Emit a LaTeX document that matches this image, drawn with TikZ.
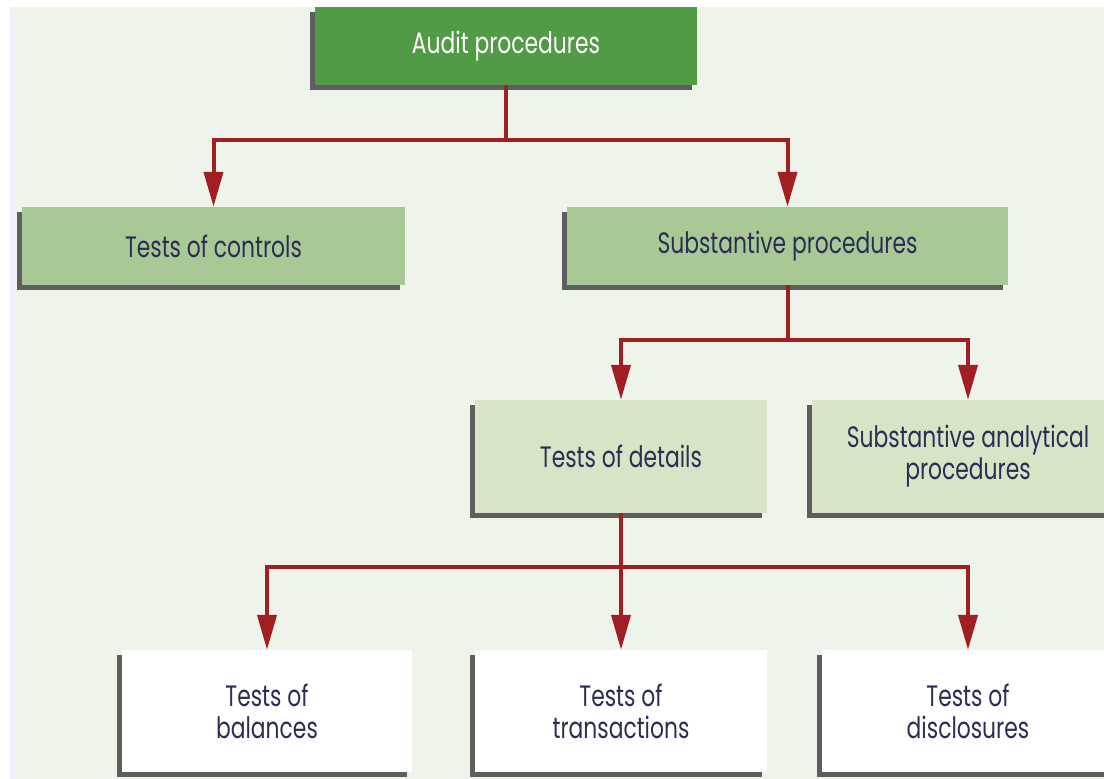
\documentclass[tikz,border=0pt]{standalone}
\usepackage{fontspec}
\setmainfont{Poppins}[FakeStretch=0.74]
\usetikzlibrary{arrows.meta,shadows}
\definecolor{bg}{HTML}{EEF4EA}
\definecolor{strip}{HTML}{EDF1F6}
\definecolor{dkgreen}{HTML}{529B46}
\definecolor{midgreen}{HTML}{A8C995}
\definecolor{ltgreen}{HTML}{D5E5C6}
\definecolor{shadowgray}{HTML}{5E5E5E}
\definecolor{linkred}{HTML}{A01E24}
\definecolor{textnavy}{HTML}{2B2D55}
\begin{document}
\begin{tikzpicture}[x=1pt,y=-1pt,
  box/.style={inner sep=0pt, align=center, text=textnavy,
    font=\fontsize{29.5}{32}\selectfont,
    general shadow={fill=shadowgray, shadow xshift=-5pt, shadow yshift=-5pt}},
  toplevel/.style={box, fill=dkgreen, text=white, minimum width=382pt, minimum height=78pt},
  midlevel/.style={box, fill=midgreen, minimum height=78pt},
  lowlevel/.style={box, fill=ltgreen, minimum height=113pt},
  leaflevel/.style={box, fill=white, minimum height=122pt},
  link/.style={draw=linkred, line width=4pt, -{Triangle[length=35pt,width=19pt]}}]
\useasboundingbox (0,0) rectangle (1104,779);
\clip (0,0) rectangle (1104,779);
\fill[strip] (10,7) rectangle (15,779);
\fill[bg] (15,7) rectangle (1104,779);

\node[toplevel] (audit) at (506,46) {Audit procedures};
\node[midlevel, minimum width=383pt] (toc) at (213.5,246) {Tests of controls};
\node[midlevel, minimum width=441pt] (subp) at (787.5,246) {Substantive procedures};
\node[lowlevel, minimum width=292pt] (tod) at (621,456.5) {Tests of details};
\node[lowlevel, minimum width=312pt] (sap) at (968,456.5) {Substantive analytical\\procedures};
\node[leaflevel, minimum width=290pt] (tob) at (267,711) {Tests of\\balances};
\node[leaflevel, minimum width=292pt] (tot) at (621,711) {Tests of\\transactions};
\node[leaflevel, minimum width=292pt] (tdis) at (968,711) {Tests of\\disclosures};

\coordinate (bar1) at (0,140);
\coordinate (bar2) at (0,340);
\coordinate (bar3) at (0,567);

\draw[link] (audit.south) -- (audit.south |- bar1) -| (toc.north);
\draw[link] (audit.south) -- (audit.south |- bar1) -| (subp.north);
\draw[link] (subp.south) -- (subp.south |- bar2) -| (tod.north);
\draw[link] (subp.south) -- (subp.south |- bar2) -| (sap.north);
\draw[link] (tod.south) -- (tod.south |- bar3) -| (tob.north);
\draw[link] (tod.south) -- (tot.north);
\draw[link] (tod.south) -- (tod.south |- bar3) -| (tdis.north);
\end{tikzpicture}
\end{document}
